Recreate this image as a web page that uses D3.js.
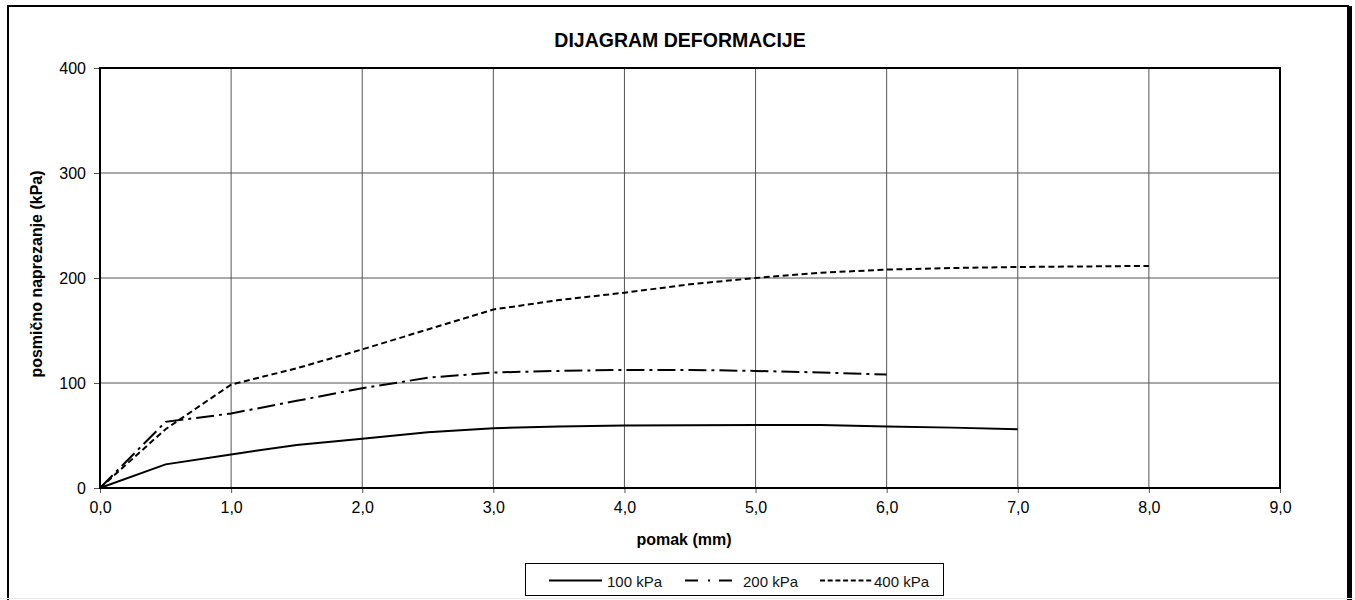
<!DOCTYPE html>
<html>
<head>
<meta charset="utf-8">
<script src="https://cdn.jsdelivr.net/npm/d3@7"></script>
<style>
    body { margin: 0; background: #fff; }
    svg { display: block; font-family: "Liberation Sans", Arial, sans-serif; }
</style>
</head>
<body>
<svg id="chart" width="1355" height="600"></svg>
<script>
// Displacement steps (mm)
const pomak100 = [0, 0.5, 1.0, 1.5, 2.0, 2.5, 3.0, 3.5, 4.0, 4.5, 5.0, 5.5, 6.0, 6.5, 7.0];
const pomak200 = [0, 0.5, 1.0, 1.5, 2.0, 2.5, 3.0, 3.5, 4.0, 4.5, 5.0, 5.5, 6.0];
const pomak400 = [0, 0.5, 1.0, 1.5, 2.0, 2.5, 3.0, 3.5, 4.0, 4.5, 5.0, 5.5, 6.0, 6.5, 7.0, 7.5, 8.0];

// Shear stress (kPa)
const napon100 = [0, 22.5, 32, 41, 47, 53, 57, 58.5, 59.5, 59.8, 60, 60, 58.5, 57.5, 56];
const napon200 = [0, 63, 71, 83, 95, 105, 110, 111.5, 112.5, 112.5, 111.5, 110, 108];
const napon400 = [0, 56, 98.5, 114, 132, 151, 170, 179, 186, 194, 200, 205, 208, 209.5, 210.5, 211, 211.5];

const seriesNames = ['100 kPa', '200 kPa', '400 kPa'];
const xTicks = [0, 1, 2, 3, 4, 5, 6, 7, 8, 9];
const yTicks = [0, 100, 200, 300, 400];

const series = [
    { name: seriesNames[0], xs: pomak100, ys: napon100, dash: null, legDash: null },
    { name: seriesNames[1], xs: pomak200, ys: napon200, dash: '18,5,3,5', legDash: '13,10,2,9' },
    { name: seriesNames[2], xs: pomak400, ys: napon400, dash: '6,3.5', legDash: '5,2.7' }
];

const svg = d3.select('#chart');
const margin = { left: 100, top: 68, right: 1280, bottom: 488 };

const x = d3.scaleLinear().domain([0, 9]).range([margin.left, margin.right]);
const y = d3.scaleLinear().domain([0, 400]).range([margin.bottom, margin.top]);

// Outer chart border
svg.append('rect')
    .attr('x', 8).attr('y', 6)
    .attr('width', 1340).attr('height', 610)
    .attr('fill', 'none')
    .attr('stroke', '#000')
    .attr('stroke-width', 2);
svg.append('rect')
    .attr('x', 1348).attr('y', 6)
    .attr('width', 4).attr('height', 594)
    .attr('fill', '#000');
svg.append('line')
    .attr('x1', 0).attr('x2', 1355)
    .attr('y1', 598.5).attr('y2', 598.5)
    .attr('stroke', '#e6e6e6');

// Title
svg.append('text')
    .attr('x', 680).attr('y', 47)
    .attr('text-anchor', 'middle')
    .attr('font-size', '19.5px')
    .attr('font-weight', 'bold')
    .text('DIJAGRAM DEFORMACIJE');

// Grid
const grid = svg.append('g');
grid.selectAll('line.vx')
    .data(xTicks.slice(1, -1))
    .join('line')
    .attr('x1', d => x(d)).attr('x2', d => x(d))
    .attr('y1', margin.top).attr('y2', margin.bottom)
    .attr('stroke', '#555')
    .attr('stroke-width', 1);
grid.selectAll('line.hy')
    .data(yTicks.slice(1, -1))
    .join('line')
    .attr('x1', margin.left).attr('x2', margin.right)
    .attr('y1', d => y(d)).attr('y2', d => y(d))
    .attr('stroke', '#555')
    .attr('stroke-width', 1);

// Axes
const xAxis = svg.append('g')
    .attr('transform', `translate(0,${margin.bottom})`)
    .call(d3.axisBottom(x).tickValues(xTicks).tickSize(5).tickPadding(9)
        .tickFormat(d => d3.format('.1f')(d).replace('.', ',')));
const yAxis = svg.append('g')
    .attr('transform', `translate(${margin.left},0)`)
    .call(d3.axisLeft(y).tickValues(yTicks).tickSize(6).tickPadding(8));

[xAxis, yAxis].forEach(a => {
    a.select('.domain').remove();
    a.attr('font-size', null);
    a.selectAll('text').attr('font-size', '16px').attr('fill', '#000')
        .attr('font-family', '"Liberation Sans", Arial, sans-serif');
    a.selectAll('line').attr('stroke', '#555');
});

// Plot frame
svg.append('rect')
    .attr('x', margin.left).attr('y', margin.top)
    .attr('width', margin.right - margin.left)
    .attr('height', margin.bottom - margin.top)
    .attr('fill', 'none')
    .attr('stroke', '#000')
    .attr('stroke-width', 2);

// Series lines
const line = d3.line()
    .x(d => x(d[0]))
    .y(d => y(d[1]));

svg.append('g')
    .selectAll('path')
    .data(series)
    .join('path')
    .attr('d', s => line(s.xs.map((v, i) => [v, s.ys[i]])))
    .attr('fill', 'none')
    .attr('stroke', '#000')
    .attr('stroke-width', 2)
    .attr('stroke-dasharray', s => s.dash);

// Axis labels
svg.append('text')
    .attr('x', 684).attr('y', 545)
    .attr('text-anchor', 'middle')
    .attr('font-size', '16px')
    .attr('font-weight', 'bold')
    .text('pomak (mm)');

svg.append('text')
    .attr('transform', 'translate(42,274) rotate(-90)')
    .attr('text-anchor', 'middle')
    .attr('font-size', '16px')
    .attr('font-weight', 'bold')
    .text('posmično naprezanje (kPa)');

// Legend
const legend = svg.append('g');
legend.append('rect')
    .attr('x', 525.5).attr('y', 563.5)
    .attr('width', 418).attr('height', 32)
    .attr('fill', '#fff')
    .attr('stroke', '#000')
    .attr('stroke-width', 1);

const legendPos = [549, 685, 820];
const legendLen = [53, 47, 52];
const legendText = [607, 743, 874];
const items = legend.selectAll('g.item')
    .data(series)
    .join('g')
    .attr('transform', (d, i) => `translate(${legendPos[i]},580.5)`);
items.append('line')
    .attr('x1', 0).attr('x2', (d, i) => legendLen[i])
    .attr('y1', 0).attr('y2', 0)
    .attr('stroke', '#000')
    .attr('stroke-width', 2)
    .attr('stroke-dasharray', d => d.legDash);
items.append('text')
    .attr('x', (d, i) => legendText[i] - legendPos[i])
    .attr('y', 6)
    .attr('font-size', '15px')
    .attr('fill', '#111')
    .text(d => d.name);
</script>
</body>
</html>
